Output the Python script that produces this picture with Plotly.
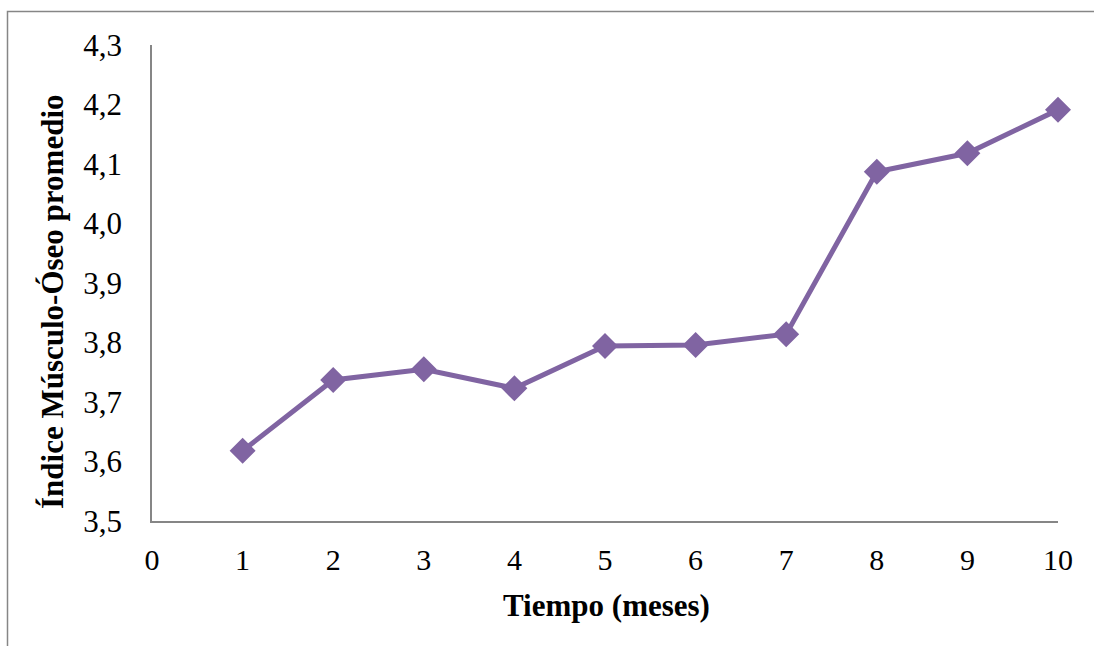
import plotly.graph_objects as go

months = [1, 2, 3, 4, 5, 6, 7, 8, 9, 10]
indice = [3.618, 3.737, 3.755, 3.723, 3.794, 3.796, 3.814, 4.087, 4.118, 4.191]
x_title = "Tiempo (meses)"
y_title = "Índice Músculo-Óseo promedio"

W, H = 1094, 646
L, R, T, B = 152, 36, 45, 125
pw, ph = W - L - R, H - T - B

def px(x):
    return (x - L) / pw

def py(y):
    return (H - B - y) / ph

fig = go.Figure()
fig.add_trace(go.Scatter(
    x=months, y=indice, mode="lines+markers",
    line=dict(color="#8064A2", width=5),
    marker=dict(symbol="diamond", size=20, color="#8064A2"),
    cliponaxis=False,
    showlegend=False,
))

font = "Liberation Serif, Times New Roman, serif"
fig.update_layout(
    width=W, height=H,
    margin=dict(l=L, r=R, t=T, b=B),
    paper_bgcolor="white", plot_bgcolor="white",
    separators=",.",
    font=dict(family=font, size=30, color="black"),
    xaxis=dict(range=[0, 10], dtick=1, tick0=0, showgrid=False, zeroline=False,
               showline=True, linecolor="#868686", linewidth=1.5,
               ticks="", ticklabelstandoff=11, tickfont=dict(size=30)),
    yaxis=dict(range=[3.5, 4.3], dtick=0.1, tick0=3.5, tickformat=".1f",
               showgrid=False, zeroline=False,
               showline=True, linecolor="#868686", linewidth=1.5,
               ticks="", ticklabelstandoff=22, tickfont=dict(size=31)),
    annotations=[
        dict(text="<b>" + x_title + "</b>", xref="paper", yref="paper",
             x=px(606), y=py(605), showarrow=False, font=dict(size=31),
             xanchor="center", yanchor="middle"),
        dict(text="<b>" + y_title + "</b>", xref="paper", yref="paper",
             x=px(52), y=py(302), showarrow=False, font=dict(size=31),
             textangle=-90, xanchor="center", yanchor="middle"),
    ],
    shapes=[
        dict(type="rect", xref="paper", yref="paper",
             x0=px(7.5), x1=px(1110), y0=py(11.5), y1=py(680),
             line=dict(color="#868686", width=1.5), layer="below"),
    ],
)

fig.write_html("out.html")
